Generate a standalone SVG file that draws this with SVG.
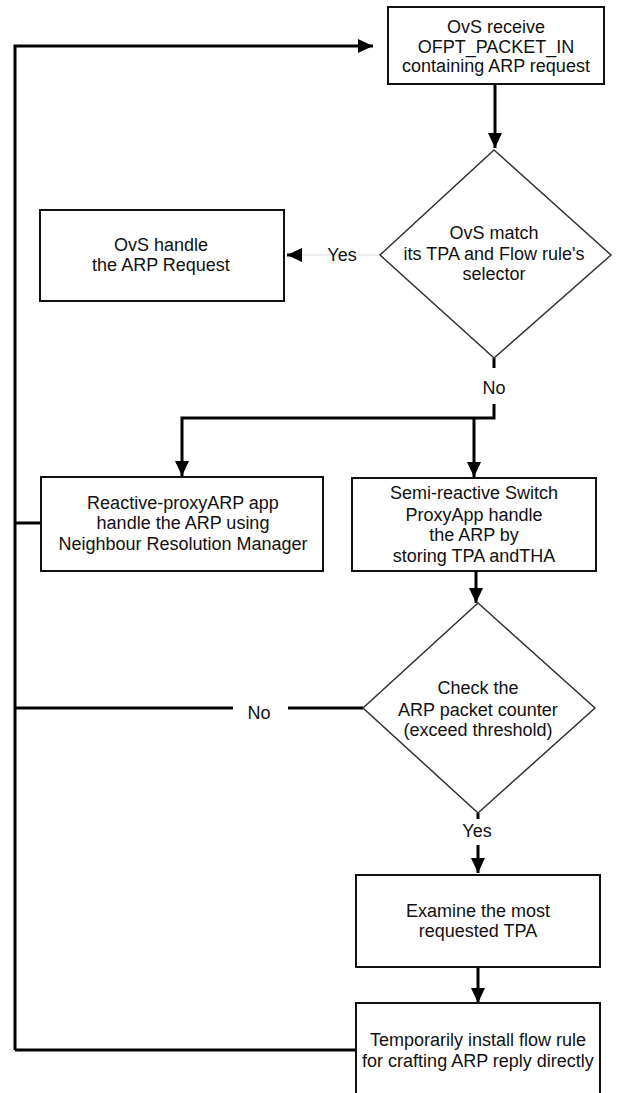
<svg xmlns="http://www.w3.org/2000/svg" width="617" height="1093" viewBox="0 0 617 1093">
<style>
.box{fill:#fff;stroke:#111;stroke-width:2}
.dia{fill:#fff;stroke:#333;stroke-width:1.5}
.t{font-family:"Liberation Sans",Arial,sans-serif;font-size:18px;fill:#111;text-anchor:middle}
.c{fill:none;stroke:#000;stroke-width:3}
.faint{fill:none;stroke:#eee;stroke-width:2}
</style>
<defs>
<marker id="ah" markerUnits="userSpaceOnUse" markerWidth="16" markerHeight="14" refX="15" refY="7" orient="auto">
<path d="M0,0 L15,7 L0,14 Z" fill="#000"/>
</marker>
</defs>
<rect width="617" height="1093" fill="#fff"/>
<g id="connectors">
<path class="c" d="M15,1050 L15,46 L373,46" marker-end="url(#ah)"/>
<path class="c" d="M495,85 L495,148" marker-end="url(#ah)"/>
<path class="faint" d="M380,255 L300,255"/>
<path class="c" d="M302,255 L287,255" marker-end="url(#ah)"/>
<path class="c" d="M494,358 L494,368 M494,404 L494,418 L182,418 L182,476" marker-end="url(#ah)"/>
<path class="c" d="M474,418 L474,477" marker-end="url(#ah)"/>
<path class="c" d="M15,523 L41,523"/>
<path class="c" d="M476,571 L476,603" marker-end="url(#ah)"/>
<path class="c" d="M363,708 L288,708 M233,708 L15,708"/>
<path class="c" d="M478,813 L478,819 M478,845 L478,873" marker-end="url(#ah)"/>
<path class="c" d="M478,967 L478,1003" marker-end="url(#ah)"/>
<path class="c" d="M356,1050 L15,1050"/>
<text class="t" x="342" y="261">Yes</text>
<text class="t" x="494" y="394">No</text>
<text class="t" x="259" y="719">No</text>
<text class="t" x="477" y="837">Yes</text>
</g>
<g id="n1">
<rect class="box" x="388" y="7" width="216" height="77"/>
<text class="t" x="496" y="33">OvS receive</text>
<text class="t" x="496" y="53">OFPT_PACKET_IN</text>
<text class="t" x="496" y="72">containing ARP request</text>
</g>
<g id="n2">
<path class="dia" d="M494,150 L611,255 L494,358 L380,255 Z"/>
<text class="t" x="494" y="239">OvS  match</text>
<text class="t" x="494" y="260">its TPA and Flow rule's</text>
<text class="t" x="494" y="280">selector</text>
</g>
<g id="n3">
<rect class="box" x="40" y="210" width="244" height="91"/>
<text class="t" x="161" y="251">OvS handle</text>
<text class="t" x="161" y="271">the ARP Request</text>
</g>
<g id="n4">
<rect class="box" x="41" y="477" width="282" height="94"/>
<text class="t" x="183" y="509">Reactive-proxyARP app</text>
<text class="t" x="183" y="529">handle the ARP using</text>
<text class="t" x="183" y="550">Neighbour Resolution Manager</text>
</g>
<g id="n5">
<rect class="box" x="352" y="478" width="244" height="93"/>
<text class="t" x="474" y="499">Semi-reactive Switch</text>
<text class="t" x="474" y="521">ProxyApp handle</text>
<text class="t" x="474" y="541">the ARP by</text>
<text class="t" x="474" y="562">storing TPA andTHA</text>
</g>
<g id="n6">
<path class="dia" d="M478,603 L595,708 L478,813 L363,708 Z"/>
<text class="t" x="478" y="694">Check the</text>
<text class="t" x="478" y="716">ARP packet counter</text>
<text class="t" x="478" y="736">(exceed threshold)</text>
</g>
<g id="n7">
<rect class="box" x="356" y="875" width="244" height="92"/>
<text class="t" x="478" y="917">Examine the most</text>
<text class="t" x="478" y="937">requested TPA</text>
</g>
<g id="n8">
<rect class="box" x="356" y="1003" width="244" height="100"/>
<text class="t" x="478" y="1046">Temporarily install flow rule</text>
<text class="t" x="478" y="1067">for crafting ARP reply directly</text>
</g>
</svg>
